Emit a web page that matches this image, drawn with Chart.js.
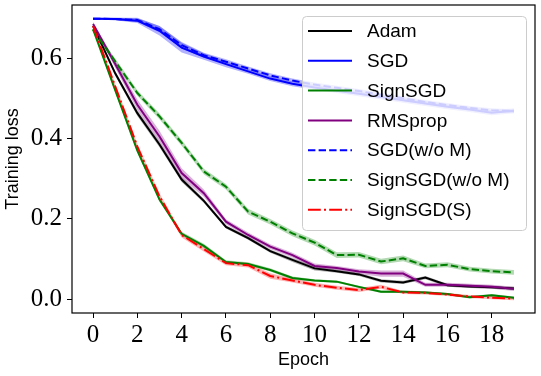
<!DOCTYPE html>
<html><head><meta charset="utf-8">
<script src="https://cdn.jsdelivr.net/npm/chart.js@4.4.0/dist/chart.umd.min.js"></script>
<style>html,body{margin:0;padding:0;background:#fff;}</style>
</head><body>
<canvas id="c" width="541" height="376" style="width:541px;height:376px;display:block"></canvas>
<script>
// ---- data ----
const epochs = [0,1,2,3,4,5,6,7,8,9,10,11,12,13,14,15,16,17,18,19];
const xTickLabels = [0,2,4,6,8,10,12,14,16,18];
const yTickLabels = [0.0,0.2,0.4,0.6];
const seriesNames = ["Adam","SGD","SignSGD","RMSprop","SGD(w/o M)","SignSGD(w/o M)","SignSGD(S)"];

const adam       = [0.680,0.562,0.463,0.385,0.298,0.245,0.180,0.152,0.120,0.098,0.077,0.070,0.062,0.046,0.042,0.054,0.035,0.032,0.030,0.027];
const sgd        = [0.698,0.697,0.693,0.668,0.626,0.604,0.585,0.567,0.549,0.536,0.527,0.519,0.511,0.503,0.495,0.487,0.479,0.472,0.464,0.469];
const signsgd    = [0.672,0.520,0.370,0.248,0.163,0.133,0.093,0.088,0.073,0.053,0.047,0.044,0.031,0.019,0.019,0.017,0.013,0.005,0.010,0.004];
const rmsprop    = [0.685,0.585,0.484,0.405,0.314,0.264,0.193,0.160,0.131,0.110,0.083,0.078,0.069,0.064,0.064,0.036,0.036,0.034,0.031,0.026];
const sgdNoM     = [0.698,0.697,0.695,0.672,0.632,0.607,0.591,0.574,0.557,0.544,0.534,0.526,0.518,0.509,0.500,0.491,0.483,0.476,0.470,0.468];
const signsgdNoM = [0.670,0.592,0.513,0.455,0.389,0.318,0.280,0.218,0.193,0.164,0.141,0.110,0.111,0.094,0.102,0.083,0.086,0.075,0.070,0.067];
const signsgdS   = [0.680,0.530,0.380,0.256,0.160,0.125,0.090,0.085,0.058,0.047,0.036,0.029,0.023,0.031,0.017,0.016,0.012,0.007,0.004,0.002];

// half-widths of the shaded bands
const adamStd       = [0.004,0.006,0.007,0.007,0.006,0.005,0.004,0.004,0.004,0.005,0.005,0.004,0.004,0.004,0.004,0.004,0.004,0.004,0.004,0.004];
const sgdStd        = [0.002,0.003,0.006,0.012,0.012,0.008,0.008,0.006,0.006,0.006,0.006,0.006,0.006,0.006,0.006,0.006,0.006,0.006,0.006,0.006];
const signsgdStd    = [0.004,0.005,0.005,0.005,0.005,0.005,0.004,0.004,0.004,0.004,0.003,0.003,0.003,0.003,0.003,0.003,0.003,0.003,0.003,0.003];
const rmspropStd    = [0.005,0.009,0.013,0.014,0.012,0.009,0.006,0.006,0.006,0.006,0.006,0.005,0.006,0.008,0.008,0.005,0.005,0.005,0.005,0.005];
const sgdNoMStd     = [0.002,0.003,0.005,0.008,0.008,0.006,0.006,0.005,0.005,0.005,0.005,0.005,0.005,0.005,0.005,0.005,0.005,0.005,0.005,0.005];
const signsgdNoMStd = [0.005,0.007,0.007,0.007,0.007,0.007,0.007,0.007,0.007,0.007,0.007,0.007,0.007,0.007,0.007,0.006,0.006,0.006,0.006,0.006];
const signsgdSStd   = [0.005,0.006,0.007,0.007,0.006,0.006,0.005,0.006,0.007,0.005,0.005,0.005,0.005,0.005,0.004,0.004,0.004,0.004,0.004,0.004];

// ---- styling ----
const series = [
  {name:seriesNames[0], v:adam,       s:adamStd,       c:[0,0,0],     dash:[]},
  {name:seriesNames[1], v:sgd,        s:sgdStd,        c:[0,0,255],   dash:[]},
  {name:seriesNames[2], v:signsgd,    s:signsgdStd,    c:[0,128,0],   dash:[]},
  {name:seriesNames[3], v:rmsprop,    s:rmspropStd,    c:[128,0,128], dash:[]},
  {name:seriesNames[4], v:sgdNoM,     s:sgdNoMStd,     c:[0,0,255],   dash:[7.4,3.2]},
  {name:seriesNames[5], v:signsgdNoM, s:signsgdNoMStd, c:[0,128,0],   dash:[7.4,3.2]},
  {name:seriesNames[6], v:signsgdS,   s:signsgdSStd,   c:[255,0,0],   dash:[12.8,3.2,2,3.2]}
];
const rgba = (c,a) => `rgba(${c[0]},${c[1]},${c[2]},${a})`;
const pts = arr => epochs.map((e,i)=>({x:e, y:arr[i]}));

const datasets = [];
series.forEach((s,i)=>{
  datasets.push({label:s.name+' lo', band:true, data:pts(s.v.map((v,k)=>v-s.s[k])),
    borderWidth:0, pointRadius:0, fill:false, order:100-i, borderColor:'rgba(0,0,0,0)'});
  datasets.push({label:s.name+' hi', band:true, data:pts(s.v.map((v,k)=>v+s.s[k])),
    borderWidth:0, pointRadius:0, fill:'-1', backgroundColor:rgba(s.c,0.3), order:100-i, borderColor:'rgba(0,0,0,0)'});
});
series.forEach((s,i)=>{
  datasets.push({label:s.name, main:true, data:pts(s.v), borderColor:rgba(s.c,1), borderWidth:2,
    borderDash:s.dash, pointRadius:0, fill:false, tension:0, order:20-i});
});

const framePlugin = {
  id:'frame',
  afterDatasetsDraw(chart){
    const {ctx, chartArea:a} = chart;
    ctx.save();
    ctx.strokeStyle='#000'; ctx.lineWidth=1.2;
    ctx.strokeRect(a.left, a.top, a.right-a.left, a.bottom-a.top);
    ctx.restore();
  }
};

const legendPlugin = {
  id:'boxLegend',
  afterDatasetsDraw(chart){
    const {ctx, chartArea:a} = chart;
    const items = chart.data.datasets.filter(d=>d.main);
    const bx = a.right-233, by = a.top+11, bw = 224, bh = 214;
    ctx.save();
    ctx.beginPath();
    ctx.roundRect(bx+0.5, by+0.5, bw, bh, 4);
    ctx.fillStyle='rgba(255,255,255,0.8)'; ctx.fill();
    ctx.strokeStyle='#cccccc'; ctx.lineWidth=1; ctx.stroke();
    ctx.font='19px "Liberation Sans", Arial, sans-serif';
    ctx.textBaseline='middle'; ctx.textAlign='left';
    items.forEach((d,i)=>{
      const y = by + 15 + i*29.8;
      ctx.beginPath();
      ctx.setLineDash(d.borderDash||[]);
      ctx.strokeStyle=d.borderColor; ctx.lineWidth=2;
      ctx.moveTo(bx+6, y); ctx.lineTo(bx+50, y); ctx.stroke();
      ctx.setLineDash([]);
      ctx.fillStyle='#000';
      ctx.fillText(d.label, bx+65, y+1);
    });
    ctx.restore();
  }
};

const noPad = s => { s.paddingLeft = 0; s.paddingRight = 0; s.paddingTop = 0; s.paddingBottom = 0; };

new Chart(document.getElementById('c'), {
  type:'line',
  data:{datasets},
  options:{
    responsive:false, animation:false, devicePixelRatio:1,
    layout:{padding:{top:5, right:6, left:0, bottom:0}},
    plugins:{legend:{display:false}, tooltip:{enabled:false}},
    scales:{
      x:{type:'linear', min:-0.95, max:19.95,
        afterBuildTicks: s => { s.ticks = xTickLabels.map(v=>({value:v})); },
        afterFit: s => { s.height = 63; noPad(s); },
        grid:{display:true, drawOnChartArea:false, drawTicks:true, tickLength:5, tickColor:'#000', tickWidth:1},
        border:{display:false},
        ticks:{color:'#000', font:{family:'"Liberation Serif", serif', size:25}, padding:2, maxRotation:0, autoSkip:false,
          callback: v => String(v)},
        title:{display:true, text:'Epoch', color:'#000', font:{family:'"Liberation Sans", Arial, sans-serif', size:18}, padding:{top:0,bottom:5}}
      },
      y:{type:'linear', min:-0.034, max:0.732,
        afterBuildTicks: s => { s.ticks = yTickLabels.map(v=>({value:v})); },
        afterFit: s => { s.width = 72; noPad(s); },
        grid:{display:true, drawOnChartArea:false, drawTicks:true, tickLength:5, tickColor:'#000', tickWidth:1},
        border:{display:false},
        ticks:{color:'#000', font:{family:'"Liberation Serif", serif', size:25}, padding:5, autoSkip:false,
          callback: v => Number(v).toFixed(1)},
        title:{display:true, text:'Training loss', color:'#000', font:{family:'"Liberation Sans", Arial, sans-serif', size:18}, padding:{top:2,bottom:0}}
      }
    }
  },
  plugins:[framePlugin, legendPlugin]
});
</script>
</body></html>
